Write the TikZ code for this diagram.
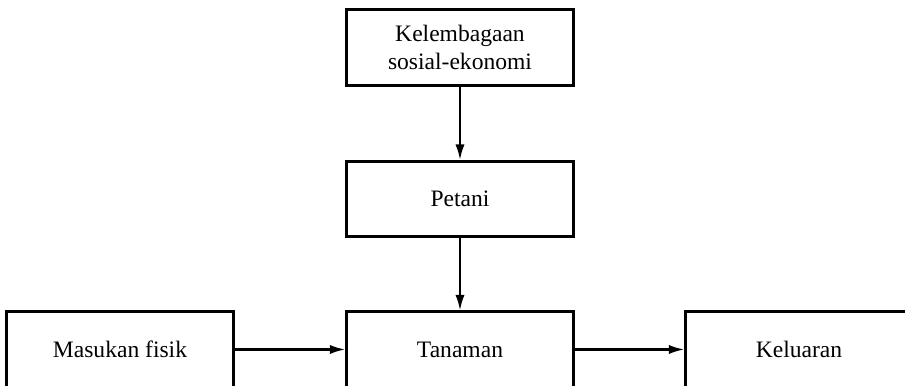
\documentclass[tikz,border=0pt]{standalone}
\usepackage{fontspec}
\setmainfont{Liberation Serif}
\usetikzlibrary{arrows.meta}

\begin{document}
\begin{tikzpicture}[x=0.01cm, y=-0.01cm,
    kotak/.style={draw, line width=0.85pt, minimum width=2.26cm, minimum height=0.75cm,
      inner sep=0pt, align=center, font=\fontsize{6.7}{8}\selectfont},
    panah/.style={-{Latex[length=4.4pt,width=2.6pt]}, line width=0.65pt}]
      \useasboundingbox (0,0) rectangle (905,386);
      \clip (0,0) rectangle (905,386);
      \node[kotak] (lembaga) at (460,47.5) {Kelembagaan\\sosial-ekonomi}; % top
      \node[kotak] (petani) at (460,199) {Petani}; % middle
      \node[kotak] (tanaman) at (460,349.5) {Tanaman}; % bottom
      \node[kotak] (masukan) at (120,349.5) {Masukan fisik}; % left
      \node[kotak] (keluaran) at (799,349.5) {Keluaran}; % right
      \draw[panah] (lembaga) -- (petani);
      \draw[panah] (petani) -- (tanaman);
      \draw[panah] (masukan) -- (tanaman);
      \draw[panah] (tanaman) -- (keluaran);
    \end{tikzpicture}
\end{document}
